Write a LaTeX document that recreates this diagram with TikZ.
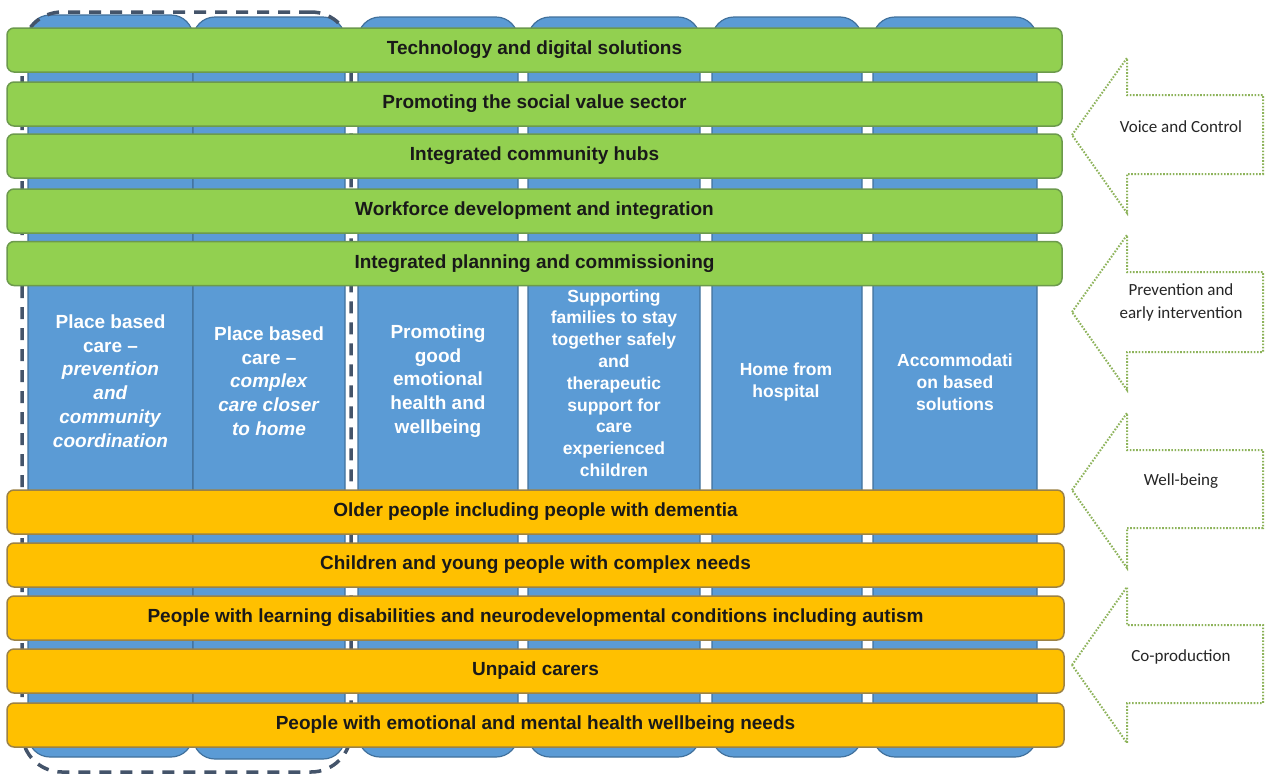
\documentclass[tikz,border=0pt]{standalone}
\usepackage{fontspec}
\setmainfont{Liberation Sans}
\newfontfamily\calib{Carlito}
\definecolor{colblue}{HTML}{5B9BD5}
\definecolor{colborder}{HTML}{41719C}
\definecolor{bargreen}{HTML}{92D050}
\definecolor{greenborder}{HTML}{6C9A4C}
\definecolor{barorange}{HTML}{FFC000}
\definecolor{orangeborder}{HTML}{9C8245}
\definecolor{dashcol}{HTML}{44546A}
\definecolor{dotgreen}{HTML}{8DB35A}
\begin{document}
\begin{tikzpicture}[x=1pt,y=-1pt,
 col/.style={draw=colborder, line width=1.2pt, fill=colblue, rounded corners=22pt, inner sep=0pt},
 coltext/.style={text=white, font=\fontsize{19}{23.7}\selectfont\bfseries, align=center, inner sep=0pt},
 coltextsm/.style={coltext, font=\fontsize{17.5}{21.8}\selectfont\bfseries},
 gbar/.style={draw=greenborder, line width=1.5pt, fill=bargreen, rounded corners=7pt, minimum width=1055pt, minimum height=44pt, inner sep=0pt, font=\fontsize{19}{23}\selectfont\bfseries, text=black!90},
 obar/.style={gbar, draw=orangeborder, fill=barorange, minimum width=1057pt},
 grpbox/.style={draw=dashcol, line width=3.5pt, dash pattern=on 12pt off 9pt, rounded corners=40pt, inner sep=0pt},
 bigarrow/.style={draw=dotgreen, line width=2pt, dash pattern=on 1.6pt off 1.6pt},
 arrowtext/.style={font=\calib\fontsize{17}{23}\selectfont, align=center, text=black!85, inner sep=0pt},
]
\useasboundingbox (0,0) rectangle (1269,777);
\fill[white] (0,0) rectangle (1269,777);

% columns
\node[col, minimum width=165pt, minimum height=742pt] (c1) at (110.5,386) {};
\node[col, minimum width=152pt, minimum height=742pt] (c2) at (269,388) {};
\node[col, minimum width=160pt, minimum height=740pt] (c3) at (438,387) {};
\node[col, minimum width=172pt, minimum height=740pt] (c4) at (614,387) {};
\node[col, minimum width=150pt, minimum height=740pt] (c5) at (787,387) {};
\node[col, minimum width=164pt, minimum height=740pt] (c6) at (955,387) {};

% dashed group
\node[grpbox, minimum width=329pt, minimum height=760pt] (grp) at (186.5,392) {};

% column texts
\node[coltext] (t1) at (110.5,381) {Place based\\care --\\\textit{prevention}\\\textit{and}\\\textit{community}\\\textit{coordination}};
\node[coltext] (t2) at (269,381) {Place based\\care --\\\textit{complex}\\\textit{care closer}\\\textit{to home}};
\node[coltext] (t3) at (438,381) {Promoting\\good\\emotional\\health and\\wellbeing};
\node[coltextsm] (t4) at (614,383) {Supporting\\families to stay\\together safely\\and\\therapeutic\\support for\\care\\experienced\\children};
\node[coltextsm] (t5) at (786,382) {Home from\\hospital};
\node[coltextsm] (t6) at (955,382) {Accommodati\\on based\\solutions};

% green bars
\node[gbar] (g1) at (534.5,50) {Technology and digital solutions};
\node[gbar] (g2) at (534.5,104) {Promoting the social value sector};
\node[gbar] (g3) at (534.5,156) {Integrated community hubs};
\node[gbar] (g4) at (534.5,211) {Workforce development and integration};
\node[gbar] (g5) at (534.5,263.5) {Integrated planning and commissioning};

% orange bars
\node[obar] (o1) at (535.5,512) {Older people including people with dementia};
\node[obar] (o2) at (535.5,565) {Children and young people with complex needs};
\node[obar] (o3) at (535.5,618) {People with learning disabilities and neurodevelopmental conditions including autism};
\node[obar] (o4) at (535.5,671) {Unpaid carers};
\node[obar] (o5) at (535.5,725) {People with emotional and mental health wellbeing needs};

% side arrows
\draw[bigarrow] (1072,135) -- (1127,58) -- (1127,95) -- (1263,95) -- (1263,174) -- (1127,174) -- (1127,213) -- cycle;
\draw[bigarrow] (1072,312) -- (1127,235) -- (1127,272) -- (1263,272) -- (1263,352) -- (1127,352) -- (1127,390) -- cycle;
\draw[bigarrow] (1072,490) -- (1127,413) -- (1127,450) -- (1263,450) -- (1263,528) -- (1127,528) -- (1127,568) -- cycle;
\draw[bigarrow] (1072,665) -- (1127,587) -- (1127,625) -- (1263,625) -- (1263,703) -- (1127,703) -- (1127,743) -- cycle;

\node[arrowtext] (a1) at (1181,127) {Voice and Control};
\node[arrowtext] (a2) at (1181,302) {Prevention and\\early intervention};
\node[arrowtext] (a3) at (1181,481) {Well-being};
\node[arrowtext] (a4) at (1181,657) {Co-production};
\end{tikzpicture}
\end{document}
